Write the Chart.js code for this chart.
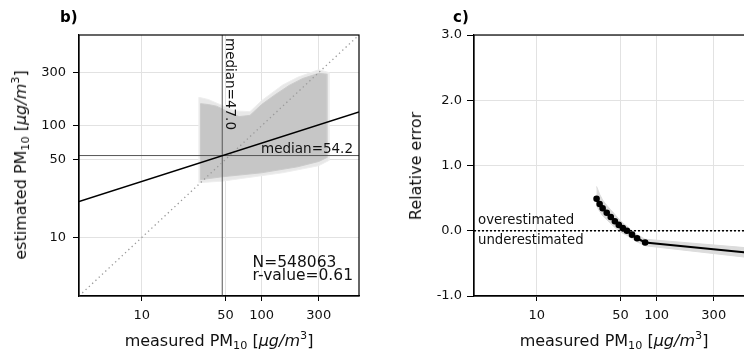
<!DOCTYPE html>
<html>
<head>
<meta charset="utf-8">
<script src="https://cdn.jsdelivr.net/npm/chart.js@4.4.0/dist/chart.umd.min.js"></script>
<style>
html, body { margin: 0; padding: 0; background: #fff; overflow: hidden; }
#wrap { position: relative; width: 744px; height: 356px; overflow: hidden; font-family: "DejaVu Sans", sans-serif; color: #000; }
canvas { position: absolute; top: 0; }
.lbl { position: absolute; white-space: nowrap; font-size: 16px; line-height: 1; color: #111; }
.lbl sub, .lbl sup { font-size: 70%; line-height: 0; }
.lbl sub { vertical-align: -0.25em; }
.lbl sup { vertical-align: 0.6em; }
.rot { transform: translate(-50%, -50%) rotate(-90deg); }
.ctr { transform: translate(-50%, -50%); }
.panel { position: absolute; font-weight: bold; font-size: 15px; line-height: 1; }
</style>
</head>
<body>
<div id="wrap">
  <canvas id="chartB" width="372" height="356" style="left:0"></canvas>
  <canvas id="chartC" width="400" height="356" style="left:372px"></canvas>
  <div class="panel" style="left:60px; top:10px">b)</div>
  <div class="panel" style="left:453px; top:10px">c)</div>
  <div class="lbl ctr" style="left:219px; top:341px">measured PM<sub>10</sub> [<i>μg/m</i><sup>3</sup>]</div>
  <div class="lbl rot" style="left:21px; top:165px">estimated PM<sub>10</sub> [<i>μg/m</i><sup>3</sup>]</div>
  <div class="lbl ctr" style="left:614px; top:341px">measured PM<sub>10</sub> [<i>μg/m</i><sup>3</sup>]</div>
  <div class="lbl rot" style="left:416px; top:166px">Relative error</div>
</div>
<script>
// shared axes
var xTicks = [10, 50, 100, 300];
var bYTicks = [10, 50, 100, 300];
var cYTicks = [-1, 0, 1, 2, 3];
var axisMin = 3, axisMax = 650;

// b) outline of the dense point cloud (measured, estimated)
var cloudUpperX = [31, 31, 36, 42, 47, 55, 65, 80, 100, 130, 170, 220, 300, 350];
var cloudUpperY = [33, 158, 155, 150, 142, 130, 121, 124, 155, 190, 230, 265, 295, 290];
var cloudLowerX = [350, 300, 200, 100, 47, 31];
var cloudLowerY = [52, 48, 43, 38, 35, 33];
// b) sparse fringe around it
var fringeUpperX = [30, 30, 36, 47, 60, 80, 100, 150, 200, 300, 365];
var fringeUpperY = [31, 180, 172, 152, 136, 134, 168, 232, 272, 318, 300];
var fringeLowerX = [365, 300, 150, 47, 30];
var fringeLowerY = [49, 44, 38, 32, 31];
var fitX = [3, 650];
var fitY = [21, 133];
var medianMeasured = 47.0;
var medianEstimated = 54.2;
var nSamples = 548063;
var rValue = 0.61;

// c) relative error per measured bin
var errX = [31.6, 33.5, 35.5, 38.4, 41.5, 44.9, 48.4, 52.3, 56.6, 62.4, 68.8, 80.3, 650];
var errY = [0.49, 0.41, 0.345, 0.275, 0.21, 0.145, 0.09, 0.04, 0.0, -0.06, -0.115, -0.18, -0.345];
var errHi = [0.68, 0.56, 0.47, 0.39, 0.32, 0.25, 0.18, 0.12, 0.07, 0.0, -0.06, -0.13, -0.27];
var errLo = [0.38, 0.30, 0.23, 0.17, 0.11, 0.05, 0.0, -0.04, -0.07, -0.12, -0.17, -0.23, -0.42];

function pts(xs, ys) {
    return xs.map(function(x, i) { return { x: x, y: ys[i] }; });
}

var tickFont = { family: 'DejaVu Sans', size: 13 };

function frame(id) {
    return {
	id: id,
	afterDatasetsDraw: function(chart) {
	    var a = chart.chartArea, ctx = chart.ctx;
	    ctx.save();
	    ctx.strokeStyle = '#000';
	    ctx.lineWidth = 1.2;
	    ctx.strokeRect(a.left, a.top, a.right - a.left, a.bottom - a.top);
	    ctx.restore();
	}
    };
}

function logX() {
    return {
	type: 'logarithmic', min: axisMin, max: axisMax, position: 'bottom',
	afterBuildTicks: function(s) { s.ticks = xTicks.map(function(v) { return { value: v }; }); },
	afterFit: function(s) { s.height = 60; },
	ticks: { callback: function(v) { return String(v); }, font: tickFont, color: '#111', padding: 7, maxRotation: 0, autoSkip: false },
	grid: { color: '#e2e2e2', tickColor: '#000', tickLength: 5 },
	border: { color: '#000', width: 1.2 }
    };
}

var bText = {
    id: 'bText',
    afterDatasetsDraw: function(chart) {
	var ctx = chart.ctx, a = chart.chartArea;
	var sx = chart.scales.x, sy = chart.scales.y;
	ctx.save();
	ctx.fillStyle = '#111';
	ctx.font = '13.5px "DejaVu Sans"';
	ctx.textBaseline = 'alphabetic';
	// vertical median label
	ctx.save();
	ctx.translate(sx.getPixelForValue(medianMeasured) + 4, a.top + 3);
	ctx.rotate(Math.PI / 2);
	ctx.textAlign = 'left';
	ctx.fillText('median=' + medianMeasured.toFixed(1), 0, 0);
	ctx.restore();
	// horizontal median label
	ctx.textAlign = 'right';
	ctx.fillText('median=' + medianEstimated.toFixed(1), a.right - 6, sy.getPixelForValue(medianEstimated) - 3);
	// stats
	ctx.font = '15.5px "DejaVu Sans"';
	ctx.textAlign = 'left';
	var lx = a.left + 0.62 * (a.right - a.left);
	ctx.fillText('N=' + nSamples, lx, a.bottom - 29);
	ctx.fillText('r-value=' + rValue.toFixed(2), lx, a.bottom - 16);
	ctx.restore();
    }
};

new Chart(document.getElementById('chartB'), {
    type: 'scatter',
    data: {
	datasets: [
	    { data: pts(fitX, fitY), showLine: true, borderColor: '#000', borderWidth: 1.6, pointRadius: 0, order: 1 },
	    { data: pts([axisMin, axisMax], [axisMin, axisMax]), showLine: true, borderColor: '#999', borderWidth: 1.3, borderDash: [1.3, 3.2], pointRadius: 0, order: 2 },
	    { data: pts([medianMeasured, medianMeasured], [axisMin, axisMax]), showLine: true, borderColor: '#555', borderWidth: 1, pointRadius: 0, order: 3 },
	    { data: pts([axisMin, axisMax], [medianEstimated, medianEstimated]), showLine: true, borderColor: '#555', borderWidth: 1, pointRadius: 0, order: 3 },
	    { data: pts(cloudUpperX.concat(cloudLowerX), cloudUpperY.concat(cloudLowerY)), showLine: true, fill: 'shape',
	      backgroundColor: '#c6c6c6', borderColor: '#cbcbcb', borderWidth: 1, pointRadius: 0, order: 5 },
	    { data: pts(fringeUpperX.concat(fringeLowerX), fringeUpperY.concat(fringeLowerY)), showLine: true, fill: 'shape',
	      backgroundColor: '#e8e8e8', borderColor: '#eeeeee', borderWidth: 1, pointRadius: 0, order: 6 }
	]
    },
    options: {
	responsive: false, animation: false, devicePixelRatio: 1,
	layout: { padding: { top: 35, right: 13, left: 0, bottom: 0 } },
	plugins: { legend: { display: false }, tooltip: { enabled: false } },
	scales: {
	    x: logX(),
	    y: {
		type: 'logarithmic', min: axisMin, max: axisMax,
		afterBuildTicks: function(s) { s.ticks = bYTicks.map(function(v) { return { value: v }; }); },
		afterFit: function(s) { s.width = 79; },
		ticks: { callback: function(v) { return String(v); }, font: tickFont, color: '#111', padding: 7 },
		grid: { color: '#e2e2e2', tickColor: '#000', tickLength: 6 },
		border: { color: '#000', width: 1.2 }
	    }
	}
    },
    plugins: [frame('frameB'), bText]
});

var cText = {
    id: 'cText',
    afterDatasetsDraw: function(chart) {
	var ctx = chart.ctx, a = chart.chartArea;
	var y0 = chart.scales.y.getPixelForValue(0);
	ctx.save();
	ctx.fillStyle = '#111';
	ctx.font = '13.3px "DejaVu Sans"';
	ctx.textAlign = 'left';
	ctx.textBaseline = 'alphabetic';
	ctx.fillText('overestimated', a.left + 4, y0 - 7);
	ctx.fillText('underestimated', a.left + 4, y0 + 13);
	ctx.restore();
    }
};

new Chart(document.getElementById('chartC'), {
    type: 'scatter',
    data: {
	datasets: [
	    { data: pts(errX, errY), showLine: true, borderColor: '#000', borderWidth: 2.2, pointRadius: 2.2,
	      pointBackgroundColor: '#000', pointBorderColor: '#000', order: 1 },
	    { data: pts([axisMin, axisMax], [0, 0]), showLine: true, borderColor: '#000', borderWidth: 1.5, borderDash: [2, 2], pointRadius: 0, order: 2 },
	    { data: pts(errX.concat(errX.slice().reverse()), errHi.concat(errLo.slice().reverse())), showLine: true, fill: 'shape',
	      backgroundColor: '#dcdcdc', borderColor: '#dcdcdc', borderWidth: 1, pointRadius: 0, order: 3 }
	]
    },
    options: {
	responsive: false, animation: false, devicePixelRatio: 1,
	layout: { padding: { top: 35, right: 18, left: 0, bottom: 0 } },
	plugins: { legend: { display: false }, tooltip: { enabled: false } },
	scales: {
	    x: logX(),
	    y: {
		type: 'linear', min: -1, max: 3,
		afterBuildTicks: function(s) { s.ticks = cYTicks.map(function(v) { return { value: v }; }); },
		afterFit: function(s) { s.width = 102; },
		ticks: { callback: function(v) { return v.toFixed(1); }, font: tickFont, color: '#111', padding: 5 },
		grid: { color: '#e2e2e2', tickColor: '#000', tickLength: 7 },
		border: { color: '#000', width: 1.2 }
	    }
	}
    },
    plugins: [frame('frameC'), cText]
});
</script>
</body>
</html>
